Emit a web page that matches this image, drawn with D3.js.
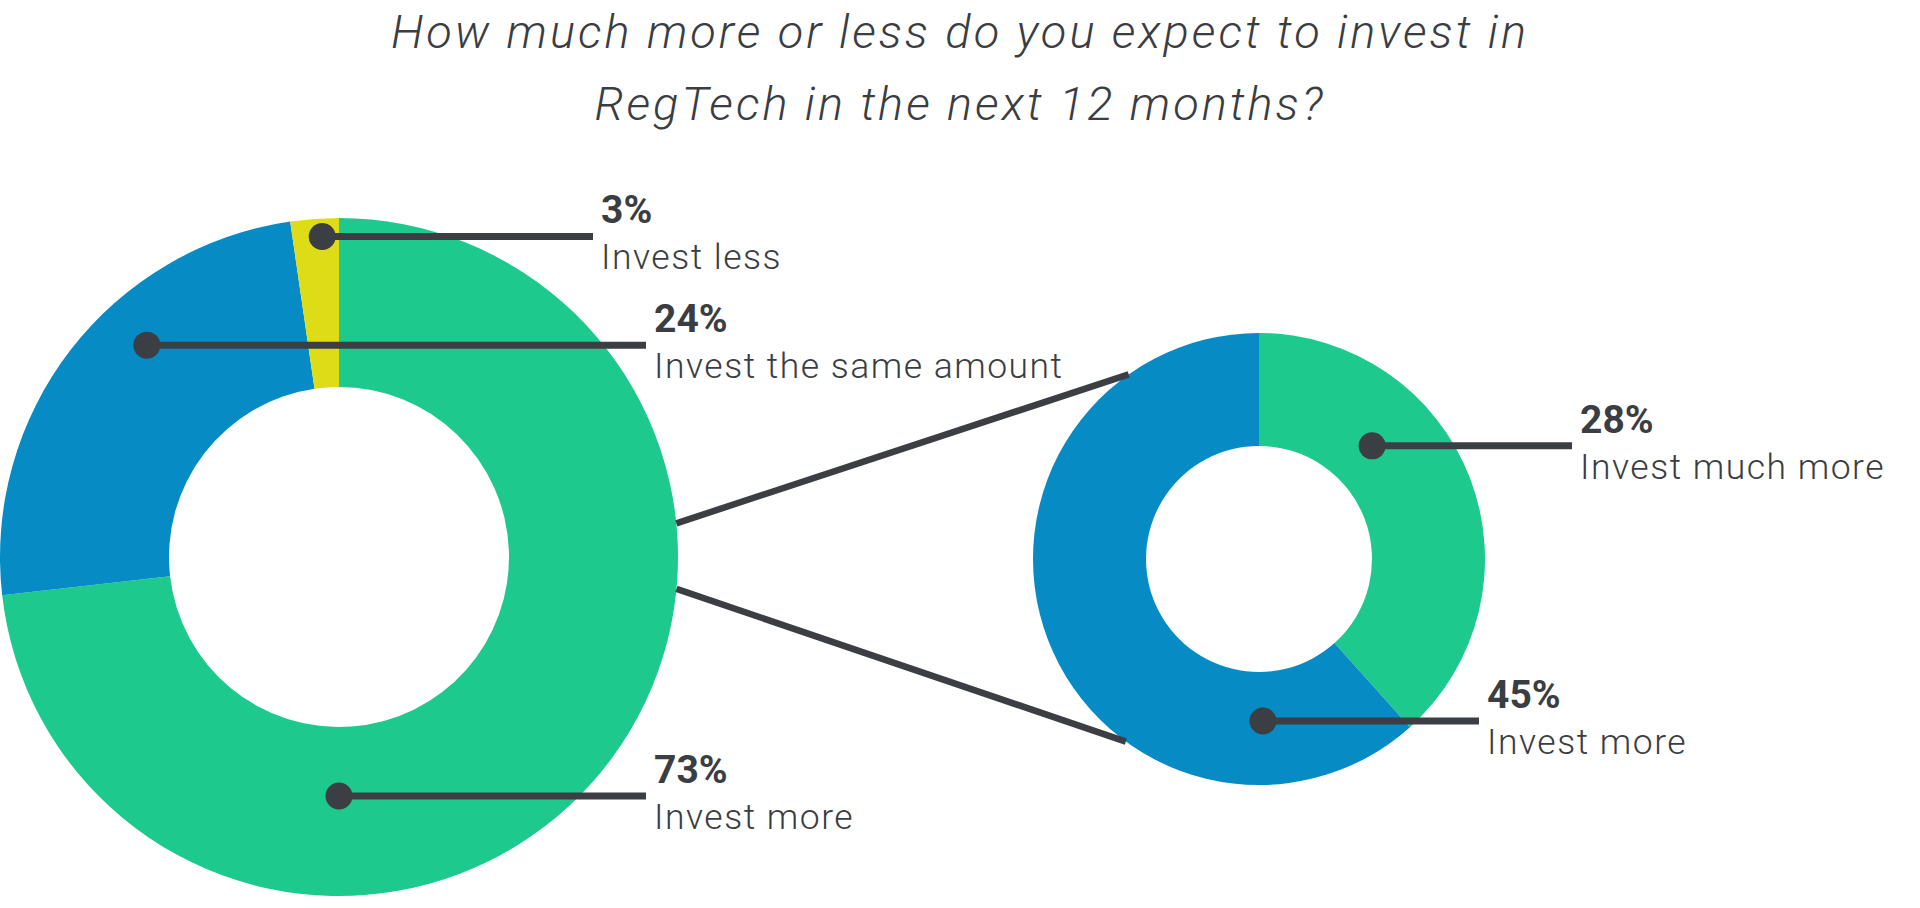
<!DOCTYPE html>
<html>
<head>
<meta charset="utf-8">
<script src="https://cdn.jsdelivr.net/npm/d3@7"></script>
<style>
  html, body { margin: 0; padding: 0; background: #ffffff; }
  svg { display: block; }
</style>
</head>
<body>
<div id="chart"></div>
<script>
// ---------- data ----------
const titleLines = ["How much more or less do you expect to invest in", "RegTech in the next 12 months?"];

const mainCategories = ["Invest more", "Invest the same amount", "Invest less"];
const mainShares = [73.2, 24.5, 2.3];          // slice sizes as drawn
const mainLabels = ["73%", "24%", "3%"];

const subCategories = ["Invest much more", "Invest more"];
const subValues = [28, 45];
const subLabels = ["28%", "45%"];

// ---------- layout & style ----------
const W = 1920, H = 908;
const colors = { green: "#1ec98e", blue: "#068bc4", yellow: "#dedc17", ink: "#3b3e43", text: "#3a3d42" };
const mainColors = [colors.green, colors.blue, colors.yellow];
const subColors = [colors.green, colors.blue];

const mainDonut = { cx: 339, cy: 557, outer: 339, inner: 170 };
const subDonut = { cx: 1259, cy: 559, outer: 226, inner: 113 };

// annotation placement: dot angle (deg, clockwise from top), dot radius, line end offset from center
const mainAnno = [
  { angle: 180, r: 239, end: 307 },
  { angle: 317.8, r: 286, end: 307 },
  { angle: 357, r: 321, end: 254 }
];
const subAnno = [
  { angle: 45, r: 160, end: 313 },
  { angle: 178.6, r: 162, end: 220 }
];
const connectorAngles = [ { from: 84.3, to: 324.8 }, { from: 95.4, to: 216.1 } ];

const svg = d3.select("#chart").append("svg").attr("width", W).attr("height", H);

// title
svg.append("g").selectAll("text").data(titleLines).join("text")
  .attr("x", 960)
  .attr("y", (d, i) => 48 + i * 72)
  .attr("text-anchor", "middle")
  .attr("font-family", "Roboto")
  .attr("font-style", "italic")
  .attr("font-weight", 300)
  .attr("font-size", 47)
  .attr("letter-spacing", 3)
  .attr("fill", colors.text)
  .text(d => d);

const toRad = d3.scaleLinear().domain([0, 360]).range([0, 2 * Math.PI]);
function polar(c, angleDeg, r) {
  const a = toRad(angleDeg);
  return [c.cx + r * Math.sin(a), c.cy - r * Math.cos(a)];
}

function drawDonut(c, values, cols) {
  const pie = d3.pie().sort(null).value(d => d).startAngle(0).endAngle(2 * Math.PI);
  const arc = d3.arc().innerRadius(c.inner).outerRadius(c.outer);
  svg.append("g").attr("transform", `translate(${c.cx},${c.cy})`)
    .selectAll("path").data(pie(values)).join("path")
    .attr("d", arc)
    .attr("fill", (d, i) => cols[i]);
}
drawDonut(mainDonut, mainShares, mainColors);
drawDonut(subDonut, subValues, subColors);

// connectors between donuts
svg.append("g").selectAll("line").data(connectorAngles).join("line")
  .each(function (d) {
    const p1 = polar(mainDonut, d.from, mainDonut.outer);
    const p2 = polar(subDonut, d.to, subDonut.outer);
    d3.select(this).attr("x1", p1[0]).attr("y1", p1[1]).attr("x2", p2[0]).attr("y2", p2[1]);
  })
  .attr("stroke", colors.ink)
  .attr("stroke-width", 6.5);

function drawAnnotations(c, anno, labels, cats) {
  const g = svg.append("g");
  anno.forEach((a, i) => {
    const [x, y] = polar(c, a.angle, a.r);
    const xe = c.cx + a.end;
    g.append("line").attr("x1", x).attr("y1", y).attr("x2", xe).attr("y2", y)
      .attr("stroke", colors.ink).attr("stroke-width", 7);
    g.append("circle").attr("cx", x).attr("cy", y).attr("r", 13.5).attr("fill", colors.ink);
    g.append("text").attr("x", xe + 8).attr("y", y - 13)
      .attr("font-family", "Roboto").attr("font-weight", 700).attr("font-size", 39)
      .attr("fill", colors.text).text(labels[i]);
    g.append("text").attr("x", xe + 8).attr("y", y + 33)
      .attr("font-family", "Roboto").attr("font-weight", 300).attr("font-size", 35.5)
      .attr("letter-spacing", 1.5)
      .attr("fill", colors.text).text(cats[i]);
  });
}
drawAnnotations(mainDonut, mainAnno, mainLabels, mainCategories);
drawAnnotations(subDonut, subAnno, subLabels, subCategories);
</script>
</body>
</html>
